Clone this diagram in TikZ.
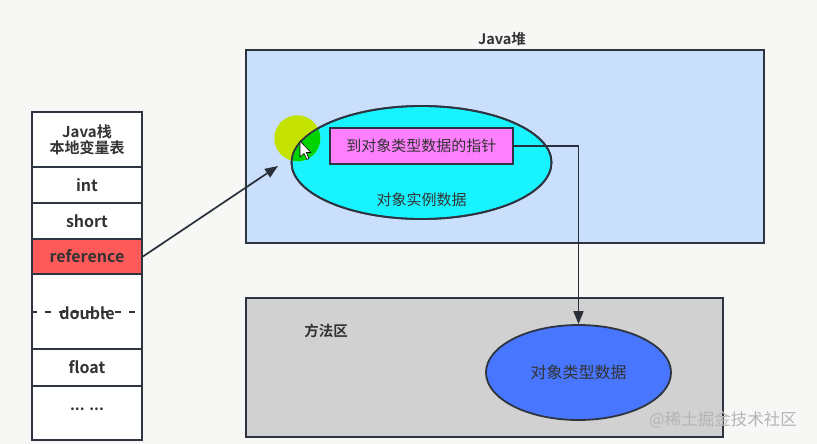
\documentclass[tikz,border=0pt]{standalone}
\usepackage{fontspec}
\setmainfont{Noto Sans CJK SC}[BoldFont={Noto Sans CJK SC Bold}]
\usetikzlibrary{shapes.geometric,arrows.meta}
\definecolor{bg}{HTML}{F7F8F6}
\definecolor{edge}{HTML}{2E3540}
\definecolor{heapfill}{HTML}{C9DFFC}
\definecolor{cyanfill}{HTML}{18F4FF}
\definecolor{pinkfill}{HTML}{FF80FF}
\definecolor{redfill}{HTML}{FF5A5A}
\definecolor{methfill}{HTML}{D0D1D0}
\definecolor{bluefill}{HTML}{4876FF}
\definecolor{hilite}{HTML}{C4E200}
\definecolor{hilitegreen}{HTML}{00D400}
\definecolor{wmark}{HTML}{B4B4B4}
\tikzset{
  row/.style={draw=edge, line width=1.9pt, fill=white, minimum width=110pt, inner sep=0pt, font=\bfseries\fontsize{16}{18}\selectfont, text=black!80},
  region/.style={draw=edge, line width=2pt, inner sep=0pt},
  title/.style={font=\bfseries\fontsize{14.5}{17}\selectfont, text=black!80},
  lbl/.style={font=\fontsize{15}{18}\selectfont, text=black!80},
  arr/.style={draw=edge!90!black, line width=1.7pt, -{Triangle[length=13pt,width=10pt]}},
}
\begin{document}
\begin{tikzpicture}[x=1pt,y=-1pt]
\useasboundingbox[fill=bg] (0,0) rectangle (817,444);
% Java stack
\node[row, minimum height=55pt, align=center, font=\bfseries\fontsize{15}{18}\selectfont] (hdr) at (87,139.5) {Java栈\\[-2pt]本地变量表};
\node[row, minimum height=36pt] (int) at (87,185) {int};
\node[row, minimum height=36pt] (short) at (87,221) {short};
\node[row, minimum height=35pt, fill=redfill] (ref) at (87,256.5) {reference};
\node[row, minimum height=75pt] (dbl) at (87,311.5) {};
\node[row, minimum height=37pt] (flt) at (87,367.5) {float};
\node[row, minimum height=54pt] (dots) at (87,413) {};
\draw[edge, line width=1.8pt, dash pattern=on 6pt off 8pt] (dbl.west |- 0,312) -- (dbl.east |- 0,312);
\node[font=\bfseries\fontsize{16}{18}\selectfont, text=black!80] (dbltxt) at (87,313) {double};
\node[anchor=base, font=\bfseries\fontsize{15}{18}\selectfont, text=black!80] (dotstxt) at (87,410) {... ...};
% Java heap
\node[region, fill=heapfill, minimum width=518pt, minimum height=192.7pt] (heap) at (505,146.3) {};
\node[title] (heaptitle) at (502,39) {Java堆};
\node[ellipse, draw=edge, line width=1.8pt, fill=cyanfill, minimum width=260pt, minimum height=113pt, inner sep=0pt] (obj) at (421.5,162.5) {};
\node[lbl] (objtxt) at (421.7,200) {对象实例数据};
% highlight circle (screen recording)
\fill[hilite] (297.3,138.3) circle (23);
\begin{scope}
\clip (421.5,162.5) ellipse (129.2 and 55.7);
\fill[hilitegreen] (297.3,138.3) circle (23);
\end{scope}
\draw[edge, line width=1.8pt] (421.5,162.5) ellipse (130 and 56.5);
\node[draw=edge, line width=1.8pt, fill=pinkfill, minimum width=182.7pt, minimum height=36pt, inner sep=0pt, lbl] (ptr) at (421.3,146) {到对象类型数据的指针};
% cursor
\draw[black, line width=0.6pt, fill=white, line join=round] (300,141) -- (300,157) -- (304,153.5) -- (306.8,159.5) -- (309,158.5) -- (306.3,152.5) -- (311,152.5) -- cycle;
% method area
\node[region, fill=methfill, minimum width=477pt, minimum height=138.4pt] (meth) at (484.5,367.5) {};
\node[title] (methtitle) at (326,331) {方法区};
\node[ellipse, draw=edge, line width=1.8pt, fill=bluefill, minimum width=185pt, minimum height=95pt, inner sep=0pt, lbl, font=\fontsize{16}{19}\selectfont] (klass) at (578.5,372.5) {对象类型数据};
% connectors
\coordinate (hit) at (278,166);
\draw[arr] (ref.east) -- (hit);
\draw[arr] (ptr.east) -| (klass.north);
% watermark
\node[anchor=west, text=wmark, font=\fontsize{16.5}{19}\selectfont, inner sep=0pt] (wm) at (649,420) {@稀土掘金技术社区};
\end{tikzpicture}
\end{document}
